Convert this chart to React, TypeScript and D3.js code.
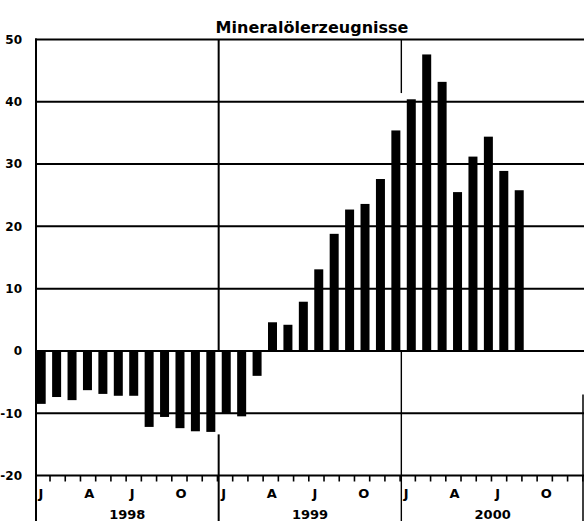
import React, { useRef, useEffect } from 'react';
import * as d3 from 'd3';

// monthly values, Jan 1998 .. Aug 2000
const values1998 = [-8.5, -7.4, -7.9, -6.3, -6.9, -7.2, -7.2, -12.2, -10.6, -12.4, -12.9, -13.0];
const values1999 = [-10.1, -10.5, -4.0, 4.6, 4.2, 7.9, 13.1, 18.8, 22.7, 23.6, 27.6, 35.4];
const values2000 = [40.4, 47.6, 43.2, 25.5, 31.2, 34.4, 28.9, 25.8];

const years = ['1998', '1999', '2000'];
const monthLabels = ['J', 'A', 'J', 'O'];
const yTicks = [50, 40, 30, 20, 10, 0, -10, -20];
const title = 'Mineralölerzeugnisse';

function App() {
  const svgRef = useRef(null);

  useEffect(() => {
    const svg = d3.select(svgRef.current);
    svg.selectAll('*').remove();

    const width = 584;
    const height = 521;
    const left = 36;
    const font = '"DejaVu Sans", sans-serif';

    const values = [...values1998, ...values1999, ...values2000];
    const nMonths = years.length * 12;

    const y = d3.scaleLinear().domain([-20, 50]).range([475.5, 39.5]);
    // month grid of the axis
    const xm = d3.scaleLinear().domain([0, nMonths]).range([left, width]);
    // bars in the original drift a little wider than the month grid
    const xb = d3.scaleLinear().domain([0, nMonths]).range([left + 0.7, left + 0.7 + nMonths * 15.42]);
    const barW = 9;

    svg.attr('width', width).attr('height', height);

    // horizontal grid lines
    svg.append('g')
      .selectAll('line')
      .data(yTicks)
      .enter()
      .append('line')
      .attr('x1', left - 1)
      .attr('x2', width)
      .attr('y1', d => y(d))
      .attr('y2', d => y(d))
      .attr('stroke', '#000')
      .attr('stroke-width', 2);

    // left axis
    svg.append('line')
      .attr('x1', left).attr('x2', left)
      .attr('y1', y(50) - 1).attr('y2', height)
      .attr('stroke', '#000').attr('stroke-width', 2);

    // year dividers, interrupted where the bars are
    [1, 2].forEach(k => {
      const m = k * 12;
      const x = xm(m);
      const a = values[m - 1];
      const b = values[m] ?? 0;
      const ext = Math.abs(a) > Math.abs(b) ? a : b;
      const gapTop = ext > 0 ? y(ext + 1) : y(0);
      const gapBot = ext > 0 ? y(0) : y(ext - 0.4);
      svg.append('line')
        .attr('x1', x).attr('x2', x)
        .attr('y1', y(50)).attr('y2', gapTop)
        .attr('stroke', '#000').attr('stroke-width', k === 1 ? 2 : 1.4);
      svg.append('line')
        .attr('x1', x).attr('x2', x)
        .attr('y1', gapBot).attr('y2', height)
        .attr('stroke', '#000').attr('stroke-width', k === 1 ? 2 : 1.4);
    });

    // right border (partly visible)
    svg.append('line')
      .attr('x1', width - 1).attr('x2', width - 1)
      .attr('y1', y(-7)).attr('y2', height)
      .attr('stroke', '#000').attr('stroke-width', 1.5);

    // bars
    svg.append('g')
      .selectAll('rect')
      .data(values)
      .enter()
      .append('rect')
      .attr('x', (d, i) => xb(i))
      .attr('y', d => y(Math.max(0, d)))
      .attr('width', barW)
      .attr('height', d => Math.abs(y(d) - y(0)))
      .attr('fill', '#000');

    // month ticks below the axis
    svg.append('g')
      .selectAll('line')
      .data(d3.range(1, nMonths + 1))
      .enter()
      .append('line')
      .attr('x1', d => xm(d) - 1.2)
      .attr('x2', d => xm(d) - 1.2)
      .attr('y1', y(-20))
      .attr('y2', y(-20) + 6)
      .attr('stroke', '#000')
      .attr('stroke-width', 1.6);

    // y labels
    svg.append('g')
      .selectAll('text')
      .data(yTicks)
      .enter()
      .append('text')
      .attr('x', 22)
      .attr('y', d => y(d))
      .attr('dy', '0.36em')
      .attr('text-anchor', 'end')
      .style('font-family', font)
      .style('font-weight', 'bold')
      .style('font-size', '12px')
      .text(d => String(d));

    // month labels J A J O
    const monthData = [];
    years.forEach((yr, yi) => {
      monthLabels.forEach((lab, qi) => {
        monthData.push({ m: yi * 12 + qi * 3, lab });
      });
    });
    svg.append('g')
      .selectAll('text')
      .data(monthData)
      .enter()
      .append('text')
      .attr('x', d => xm(d.m) + 2.5)
      .attr('y', 498)
      .style('font-family', font)
      .style('font-weight', 'bold')
      .style('font-size', '13px')
      .text(d => d.lab);

    // year labels
    svg.append('g')
      .selectAll('text')
      .data(years)
      .enter()
      .append('text')
      .attr('x', (d, i) => xm(i * 12 + 6))
      .attr('y', 519)
      .attr('text-anchor', 'middle')
      .style('font-family', font)
      .style('font-weight', 'bold')
      .style('font-size', '13px')
      .text(d => d);

    // title
    svg.append('text')
      .attr('x', 312)
      .attr('y', 32.5)
      .attr('text-anchor', 'middle')
      .style('font-family', font)
      .style('font-weight', 'bold')
      .style('font-size', '16px')
      .text(title);
  }, []);

  return (
    <svg
      ref={svgRef}
      style={{ position: 'absolute', left: 0, top: 0, display: 'block', background: '#fff' }}
    ></svg>
  );
}

export default App;
